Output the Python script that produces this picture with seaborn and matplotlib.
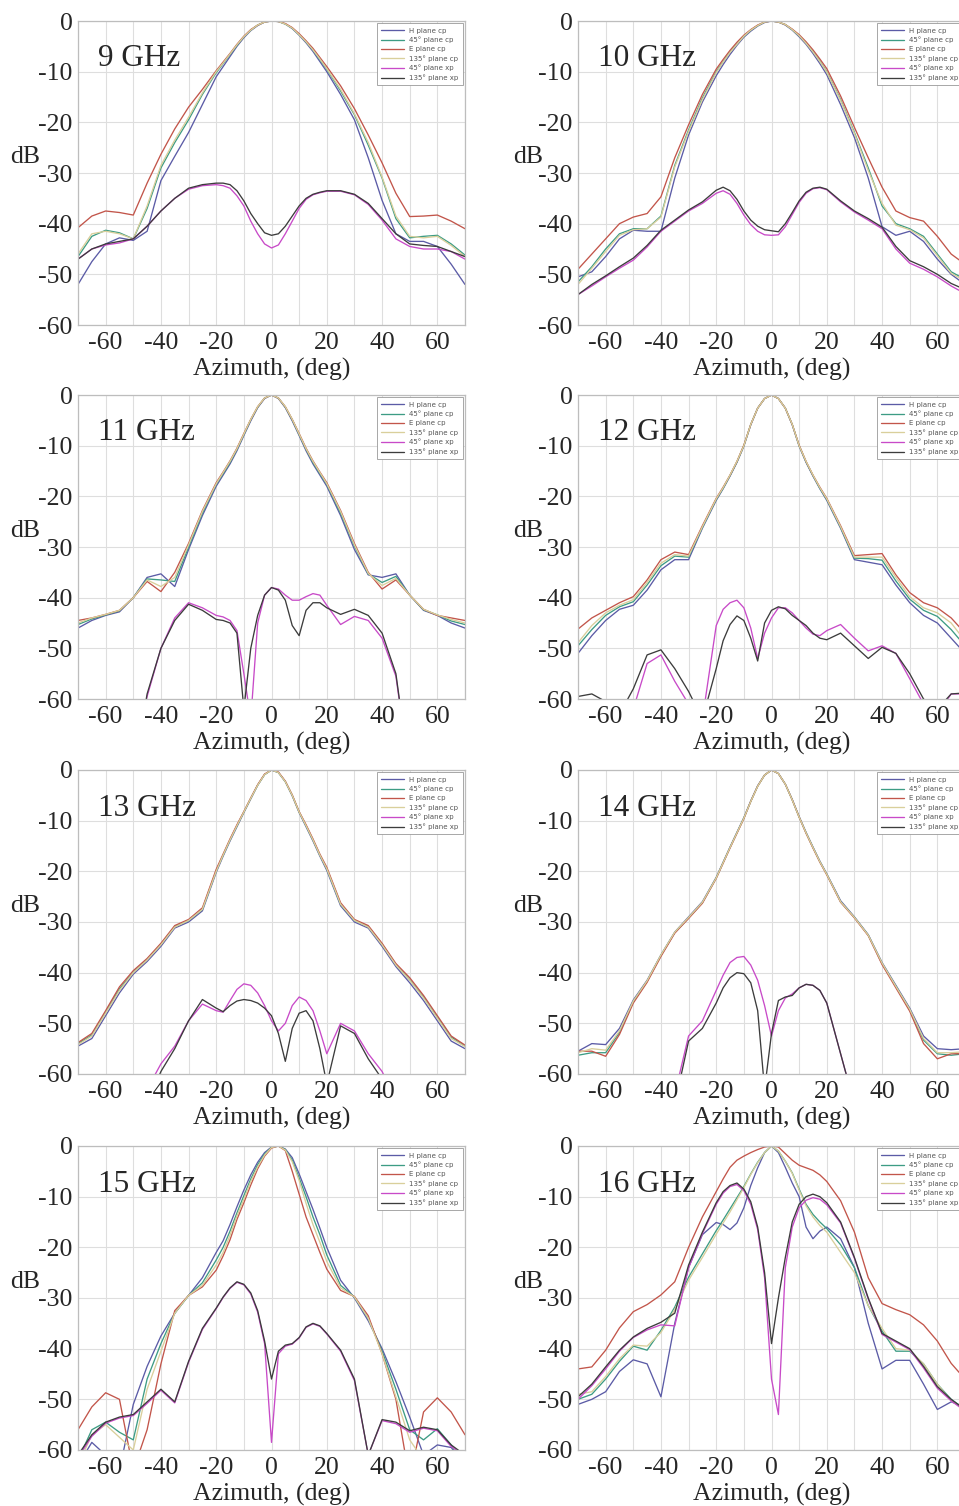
import matplotlib
matplotlib.use("Agg")
import matplotlib.pyplot as plt
import pandas as pd
import seaborn as sns


AZIMUTH = [-70, -65, -60, -55, -50, -45, -40, -35, -30, -25, -20,
           -17.5, -15, -12.5, -10, -7.5, -5, -2.5, 0, 2.5, 5, 7.5, 10, 12.5, 15, 17.5,
           20, 25, 30, 35, 40, 45, 50, 55, 60, 65, 70]

SERIES = ["H plane cp", "45° plane cp", "E plane cp", "135° plane cp", "45° plane xp", "135° plane xp"]
COLORS = ["#5b5ba6", "#3d9c84", "#c2554a", "#d9cf9b", "#c84ac8", "#3c3c3c"]
FREQUENCIES = ["9 GHz", "10 GHz", "11 GHz", "12 GHz", "13 GHz", "14 GHz", "15 GHz", "16 GHz"]
X_TICKS = [-60, -40, -20, 0, 20, 40, 60]
Y_TICKS = [0, -10, -20, -30, -40, -50, -60]

# dB values per series (order of SERIES), read at AZIMUTH
PATTERN_9 = [
    [-52, -47.5, -44, -42.8, -43.3, -41.5, -31.5, -26.7, -22, -16.5, -11,
     -9, -7, -5, -3.3, -1.9, -0.9, -0.2, 0, -0.1, -0.6, -1.5, -2.8, -4.3, -6, -8,
     -10, -14.5, -19.5, -27, -35.4, -42, -43.5, -43.5, -44.5, -48, -52],
    [-46.5, -42.5, -41.3, -41.8, -43, -37, -29, -24, -19.5, -14.5, -10.2,
     -8.4, -6.6, -4.8, -3.1, -1.8, -0.8, -0.2, 0, -0.1, -0.6, -1.4, -2.7, -4.1, -5.7, -7.6,
     -9.5, -13.8, -18.5, -24.5, -31, -39, -42.8, -42.5, -42.3, -44, -46.2],
    [-40.8, -38.5, -37.5, -37.8, -38.3, -32, -26.3, -21.3, -17, -13.5, -9.8,
     -8.1, -6.4, -4.6, -3, -1.7, -0.8, -0.2, 0, -0.1, -0.5, -1.3, -2.5, -3.9, -5.4, -7.2,
     -9, -12.8, -17.3, -22.5, -28, -34, -38.6, -38.5, -38.3, -39.5, -41],
    [-46, -42, -41.5, -42, -43, -36.5, -28.5, -23.5, -19, -14.2, -10,
     -8.3, -6.5, -4.7, -3.1, -1.8, -0.8, -0.2, 0, -0.1, -0.6, -1.4, -2.7, -4.1, -5.7, -7.5,
     -9.4, -13.5, -18.3, -24, -30.8, -38.5, -42.5, -42.8, -42.5, -44.3, -46.5],
    [-47, -45, -44.2, -43.8, -43, -40.5, -37.5, -35, -33.2, -32.5, -32.3,
     -32.5, -33, -34.5, -36.5, -39.5, -42, -44, -44.8, -44.2, -42, -39.5, -37, -35.2, -34.3, -33.9,
     -33.6, -33.6, -34.3, -36.2, -39.3, -43, -44.5, -45, -45, -45.5, -47],
    [-47, -45, -44, -43.5, -43, -40.5, -37.5, -35, -33, -32.3, -32,
     -32, -32.3, -33.5, -35.5, -38, -40, -41.8, -42.3, -42, -40.5, -38.5, -36.5, -35, -34.2, -33.8,
     -33.5, -33.5, -34.2, -36, -39, -42, -44, -44.3, -44.5, -45.5, -46.5],
]

PATTERN_10 = [
    [-50.5, -49.5, -46.5, -43, -41.3, -41.5, -41.5, -31, -22.5, -16, -10.8,
     -8.6, -6.6, -4.8, -3.2, -2, -1, -0.3, 0, -0.2, -0.8, -1.8, -3.1, -4.6, -6.4, -8.4,
     -10.6, -16.5, -23, -31, -40.6, -42.3, -41.5, -43.5, -47, -50, -52],
    [-51.5, -48.5, -45, -42, -41, -41, -38.5, -28.5, -21.5, -15.2, -10,
     -8, -6.1, -4.5, -3, -1.8, -0.9, -0.2, 0, -0.2, -0.7, -1.7, -2.9, -4.3, -6, -7.9,
     -10, -15.5, -22, -29, -36.5, -40, -41, -42.5, -46, -49.5, -51],
    [-49, -46, -43, -40, -38.7, -38, -34.7, -27, -20.5, -14.5, -9.5,
     -7.6, -5.8, -4.2, -2.8, -1.7, -0.8, -0.2, 0, -0.2, -0.7, -1.6, -2.7, -4.1, -5.7, -7.5,
     -9.4, -14.8, -21, -27, -32.8, -37.5, -38.8, -39.5, -42.5, -46, -48],
    [-52, -48.8, -45.5, -42.3, -41.2, -41, -38.7, -28.8, -21.8, -15.5, -10.2,
     -8.1, -6.2, -4.6, -3, -1.8, -0.9, -0.2, 0, -0.2, -0.7, -1.7, -2.9, -4.4, -6.1, -8,
     -10.1, -15.7, -22.2, -29.5, -36, -40.3, -41.2, -42.8, -46.3, -49.8, -51.3],
    [-54, -52.3, -50.5, -48.8, -47.2, -44.6, -41.5, -39.5, -37.5, -36, -34,
     -33.5, -34.2, -36, -38.3, -40.2, -41.5, -42.2, -42.3, -42.2, -40.6, -38.2, -35.8, -34, -33.1, -32.9,
     -33.3, -35.7, -37.7, -39.3, -41, -45, -47.8, -49, -50.5, -52.3, -53.8],
    [-54, -52, -50.3, -48.5, -46.8, -44.3, -41.3, -39.3, -37.3, -35.7, -33.4,
     -32.8, -33.5, -35.2, -37.5, -39.3, -40.5, -41.2, -41.4, -41.6, -40, -37.8, -35.5, -33.8, -33, -32.8,
     -33.2, -35.5, -37.5, -39, -40.7, -44.5, -47.3, -48.5, -50, -51.8, -53],
]

PATTERN_11 = [
    [-46, -44.5, -43.5, -42.8, -40, -36, -35.3, -37.8, -30.5, -23.8, -18,
     -15.8, -13.6, -11, -8, -5.1, -2.5, -0.7, 0, -0.7, -2.5, -5.1, -8, -11, -13.6, -15.8,
     -18, -23.8, -30.5, -35.5, -36, -35.3, -39.5, -42.5, -43.5, -45, -46],
    [-45.3, -44.2, -43.4, -42.6, -40, -36.3, -36.5, -36.8, -30, -23.3, -17.6,
     -15.5, -13.3, -10.7, -7.8, -4.9, -2.4, -0.6, 0, -0.6, -2.4, -4.9, -7.8, -10.7, -13.3, -15.5,
     -17.6, -23.3, -29.8, -35.3, -37, -35.8, -39.5, -42.4, -43.4, -44.6, -45.3],
    [-44.5, -44, -43.3, -42.5, -40, -36.8, -38.8, -35, -29.3, -22.8, -17.3,
     -15.2, -13, -10.5, -7.6, -4.8, -2.3, -0.6, 0, -0.6, -2.3, -4.8, -7.6, -10.5, -13, -15.2,
     -17.3, -22.8, -29.3, -35, -38.3, -36.5, -39.5, -42.3, -43.5, -44, -44.5],
    [-45, -44, -43.3, -42.5, -40, -36.5, -37.8, -36, -29.6, -23, -17.5,
     -15.3, -13.1, -10.6, -7.7, -4.8, -2.3, -0.6, 0, -0.6, -2.3, -4.8, -7.7, -10.6, -13.1, -15.3,
     -17.5, -23, -29.6, -35.2, -37.6, -36.2, -39.5, -42.3, -43.4, -44.3, -45],
    [-75, -75, -75, -75, -75, -59.5, -50, -44, -41, -42, -43.5,
     -43.8, -44.5, -46.5, -55, -64, -45, -39.5, -38, -38.3, -39.5, -40.5, -40.5, -39.8, -39.2, -39.5,
     -41.5, -45.3, -43.7, -44.5, -48, -55.5, -75, -75, -75, -75, -75],
    [-75, -75, -75, -75, -75, -59, -50, -44.5, -41.3, -42.5, -44.3,
     -44.5, -45, -47, -62, -50, -43.5, -39.5, -38, -38.5, -40.5, -45.5, -47.5, -42.5, -41, -41,
     -42, -43.3, -42.3, -43.5, -47, -55, -75, -75, -75, -75, -75],
]

PATTERN_12 = [
    [-51, -47.5, -44.5, -42.3, -41.5, -38.5, -34.5, -32.5, -32.5, -26.3, -20.8,
     -18.5, -16, -13.3, -10.1, -5.9, -2.6, -0.7, 0, -0.7, -2.6, -5.9, -10.1, -13.3, -16, -18.5,
     -20.8, -26.3, -32.5, -33, -33.5, -37.5, -41, -43.5, -45, -48, -51],
    [-49.5, -46.3, -43.5, -41.8, -40.8, -37.5, -33.7, -31.8, -32, -26.1, -20.6,
     -18.4, -15.9, -13.2, -10, -5.8, -2.6, -0.7, 0, -0.7, -2.6, -5.8, -10, -13.2, -15.9, -18.4,
     -20.6, -26.1, -32.2, -32.3, -32.6, -36.7, -40.3, -42.5, -43.7, -46.3, -49.5],
    [-46.2, -44, -42.5, -41, -39.8, -36.5, -32.5, -31, -31.5, -25.8, -20.4,
     -18.2, -15.8, -13.1, -9.9, -5.8, -2.6, -0.7, 0, -0.7, -2.6, -5.8, -9.9, -13.1, -15.8, -18.2,
     -20.4, -25.8, -31.7, -31.5, -31.3, -35.5, -39, -41, -42, -44, -47],
    [-48.9, -45.5, -43, -41.5, -40.4, -37, -33.2, -31.5, -31.8, -26, -20.5,
     -18.3, -15.8, -13.1, -10, -5.8, -2.6, -0.7, 0, -0.7, -2.6, -5.8, -10, -13.1, -15.8, -18.3,
     -20.5, -26, -32, -32, -32, -36, -39.8, -42, -43, -45, -48.5],
    [-62, -61, -63, -64, -62, -53, -51.3, -56.5, -61, -64, -45.5,
     -42.3, -41, -40.5, -42, -46, -52, -47, -44, -42, -42, -43, -44.5, -46, -47.2, -47.5,
     -46.5, -45.3, -48, -50.5, -49.5, -51, -56, -61, -63, -59, -59],
    [-59.5, -59, -60.5, -63, -58, -51.3, -50.3, -54, -58.5, -64, -54,
     -48.5, -45.3, -43.6, -44.5, -48, -52.5, -45, -42.5, -41.8, -42.2, -43.5, -44.5, -45.5, -47, -48,
     -48.3, -47, -49.5, -52, -49.8, -51, -55, -60, -62, -59, -58.8],
]

PATTERN_13 = [
    [-54.5, -53, -48.5, -44, -40.3, -37.8, -34.8, -31.2, -30, -27.8, -20.2,
     -17, -14, -11.2, -8.4, -5.7, -3, -0.9, 0, -0.5, -2.3, -5.1, -8.4, -11.2, -14, -17,
     -19.8, -26.8, -30, -31.2, -34.8, -38.8, -42, -45.5, -49.5, -53.5, -55],
    [-54, -52.3, -47.8, -43.2, -39.9, -37.4, -34.4, -30.9, -29.7, -27.5, -19.9,
     -16.8, -13.8, -11, -8.3, -5.6, -3, -0.9, 0, -0.5, -2.3, -5, -8.3, -11, -13.8, -16.8,
     -19.5, -26.5, -29.7, -30.9, -34.4, -38.4, -41.4, -44.8, -48.8, -52.7, -54.5],
    [-53.8, -52, -47.5, -42.8, -39.6, -37.2, -34.2, -30.7, -29.5, -27.2, -19.6,
     -16.6, -13.6, -10.8, -8.2, -5.5, -2.9, -0.8, 0, -0.4, -2.2, -4.9, -8.2, -10.8, -13.6, -16.6,
     -19.2, -26.2, -29.5, -30.7, -34.2, -38.2, -41, -44.5, -48.5, -52.5, -54.3],
    [-54.2, -52.5, -48, -43.5, -40, -37.5, -34.5, -31, -29.7, -27.5, -20,
     -16.8, -13.8, -11, -8.3, -5.6, -3, -0.9, 0, -0.5, -2.3, -5, -8.3, -11, -13.8, -16.8,
     -19.5, -26.5, -29.7, -31, -34.5, -38.5, -41.5, -45, -49, -53, -54.6],
    [-75, -75, -75, -75, -75, -63, -58, -54.5, -49.5, -46.2, -47.5,
     -47.8, -45.5, -43.3, -42.2, -42.5, -44, -46.5, -49.5, -51.5, -50, -46.5, -44.8, -45.5, -47.5, -51.5,
     -56, -50, -51.5, -56, -59.5, -65, -75, -75, -75, -75, -75],
    [-75, -75, -75, -75, -75, -66, -59.5, -55, -49.5, -45.3, -47,
     -47.7, -46.5, -45.6, -45.3, -45.5, -46, -47, -48.5, -52, -57.5, -51, -48, -47.5, -49.5, -55,
     -62, -50.5, -52, -57, -61, -66, -75, -75, -75, -75, -75],
]

PATTERN_14 = [
    [-55.5, -54, -54.2, -51, -45.4, -41.5, -36.5, -32, -29, -26, -21.2,
     -18.2, -15.2, -12.3, -9.4, -6.1, -3.1, -1, 0, -0.7, -2.8, -5.8, -9.2, -12.3, -15.2, -18,
     -20.5, -25.8, -29, -32.5, -38, -42.5, -47, -52.5, -55, -55.2, -55],
    [-56.3, -55.8, -55.8, -51.8, -45.7, -41.7, -36.6, -32.1, -29.2, -26.2, -21.3,
     -18.3, -15.3, -12.4, -9.5, -6.2, -3.2, -1, 0, -0.7, -2.8, -5.9, -9.3, -12.4, -15.3, -18.1,
     -20.6, -26, -29.1, -32.6, -38.2, -42.7, -47.3, -53.3, -56, -56.3, -56],
    [-55.5, -55.5, -56.5, -52.2, -46, -41.9, -36.8, -32.2, -29.3, -26.3, -21.4,
     -18.4, -15.4, -12.5, -9.6, -6.2, -3.2, -1, 0, -0.7, -2.8, -5.9, -9.3, -12.5, -15.4, -18.2,
     -20.7, -26.1, -29.2, -32.7, -38.4, -43, -47.6, -54, -57, -56, -56],
    [-55.8, -55, -55.3, -51.5, -45.6, -41.6, -36.5, -32, -29.1, -26.1, -21.3,
     -18.3, -15.3, -12.4, -9.5, -6.2, -3.2, -1, 0, -0.7, -2.8, -5.9, -9.3, -12.4, -15.3, -18.1,
     -20.6, -26, -29.1, -32.6, -38.1, -42.7, -47.2, -53, -55.8, -55.8, -55.6],
    [-75, -75, -75, -75, -75, -75, -75, -64, -52.5, -49.5, -43.5,
     -40.5, -38, -37, -36.8, -38.5, -41.5, -46.5, -52.5, -47.5, -45, -44.2, -43, -42.3, -42.5, -43.5,
     -46, -56, -66, -75, -75, -75, -75, -75, -75, -75, -75],
    [-75, -75, -75, -75, -75, -75, -75, -66, -53.5, -51, -46,
     -43, -41, -40, -40.2, -42, -47.5, -63, -52, -45.5, -44.8, -44.5, -43, -42.3, -42.5, -43.5,
     -46, -56, -66, -75, -75, -75, -75, -75, -75, -75, -75],
]

PATTERN_15 = [
    [-63, -58.5, -61, -64, -51, -43.5, -37.5, -33, -29.5, -26, -21,
     -18.7, -15.5, -12, -8.7, -5.7, -3.2, -1.3, -0.2, 0, -0.6, -2.3, -5.5, -9, -12.5, -16.2,
     -20, -26.5, -30, -34.5, -40, -46.5, -53.5, -61, -59, -59.5, -63],
    [-62, -56, -54.5, -56.5, -58, -46, -39, -33, -29.5, -27, -22.5,
     -20, -16.8, -13.2, -9.8, -6.5, -3.7, -1.6, -0.3, 0, -0.7, -2.8, -6.3, -10, -14, -17.5,
     -21.5, -27.5, -29.8, -34, -40.5, -48, -56, -58, -55.8, -59, -64],
    [-56, -51.5, -48.7, -50, -64, -56, -43, -32.5, -29.5, -27.8, -24.5,
     -21.7, -18.5, -14.5, -11.2, -7.7, -4.5, -2, -0.4, 0, -0.9, -5, -9.5, -14, -17.5, -21,
     -24.3, -28.5, -29.7, -33.5, -41, -50, -66, -52.5, -49.7, -52.5, -57],
    [-63, -57, -55, -57.5, -60, -48, -40.5, -33, -29.5, -27.5, -23.5,
     -21, -17.6, -13.8, -10.5, -7, -4.1, -1.8, -0.3, 0, -0.8, -3.1, -6.8, -11.3, -15.5, -19,
     -22.8, -28, -29.8, -34, -41, -49.5, -58, -62, -62, -62, -65],
    [-61.5, -57.3, -54.7, -53.7, -53.2, -50.8, -48.2, -50.7, -42.7, -36.2, -32.1,
     -29.9, -28.1, -26.9, -27.4, -29.2, -32.8, -39, -58.5, -41, -39.5, -39.1, -37.9, -35.8, -35.1, -35.6,
     -37.1, -40.5, -46.3, -61, -54.2, -54.8, -56.5, -55.7, -56.2, -59.3, -61.3],
    [-61, -57, -54.5, -53.5, -53, -50.5, -48, -50.5, -42.5, -36, -32,
     -29.8, -28, -26.8, -27.3, -29, -32.5, -38.5, -46, -40.5, -39.3, -39, -37.8, -35.7, -35, -35.5,
     -37, -40.3, -46, -61, -54, -54.5, -56.2, -55.5, -56, -59, -61],
]

PATTERN_16 = [
    [-51, -50, -48.5, -44.5, -42.2, -43, -49.5, -35, -24, -17.5, -15.1,
     -15.5, -16.5, -15.2, -12.2, -7.8, -4.3, -1.3, 0, -1.3, -4.2, -7.3, -10, -16, -18.3, -16.8,
     -16, -18.3, -24, -35, -44, -42.3, -42.3, -47, -52, -50.5, -51.5],
    [-50, -49, -46, -42.5, -39.5, -40.3, -36.4, -31.8, -25.9, -21.3, -16.7,
     -14.6, -12.4, -10.2, -8, -5.5, -3.2, -1.3, 0, -1, -3, -5.3, -8.5, -11.5, -13.5, -15,
     -16.3, -19.5, -24, -31.5, -36.5, -40.5, -40.5, -43, -47, -50, -52],
    [-44, -43.6, -40.3, -35.9, -32.7, -31.3, -29.4, -26.8, -20, -14, -9,
     -6.5, -4.2, -2.8, -2, -1.3, -0.7, -0.2, 0, -0.2, -1.5, -2.8, -3.8, -4.3, -4.8, -5.7,
     -7, -10.8, -17, -26, -31.1, -32.3, -33.3, -35.3, -38.5, -42.9, -46],
    [-49, -48.5, -45.5, -42, -39.3, -39.5, -36.8, -32.3, -26.5, -22, -17.4,
     -15.2, -13, -10.6, -8.2, -5.6, -3.3, -1.3, 0, -1, -3, -5.4, -8.7, -11.8, -14, -15.7,
     -17, -21, -25, -31.5, -36, -40, -40.3, -43, -47, -50.3, -52],
    [-50, -47.3, -44, -40.5, -37.8, -36.3, -35.3, -35.5, -24, -17.3, -11.5,
     -9.3, -8, -7.6, -8.8, -11.5, -16.5, -26, -46, -53, -24, -16, -12.2, -10.7, -10.2, -10.5,
     -11.6, -15.2, -22.2, -30.2, -37.2, -38.7, -40.2, -43.8, -47.8, -50.3, -52.3],
    [-49.5, -47, -43.6, -40.3, -37.7, -36, -34.8, -33, -23.5, -17, -11.2,
     -9, -7.8, -7.3, -8.5, -11, -16, -25, -39, -30, -22, -15, -11.5, -10, -9.5, -10,
     -11.2, -15, -22, -30, -37, -38.5, -40, -43.5, -47.5, -50, -52],
]

PATTERNS = [PATTERN_9, PATTERN_10, PATTERN_11, PATTERN_12,
            PATTERN_13, PATTERN_14, PATTERN_15, PATTERN_16]


def pattern_frame(pattern) -> pd.DataFrame:
    rows = []
    for name, values in zip(SERIES, pattern):
        assert len(values) == len(AZIMUTH), (name, len(values))
        for az, db in zip(AZIMUTH, values):
            rows.append({"azimuth": az, "dB": db, "series": name})
    return pd.DataFrame(rows)


def draw_panel(ax, label, pattern, column) -> None:
    data = pattern_frame(pattern)
    sns.lineplot(
        data=data, x="azimuth", y="dB", hue="series", hue_order=SERIES,
        palette=dict(zip(SERIES, COLORS)), estimator=None, sort=False,
        linewidth=0.95, ax=ax,
    )
    ax.set_xlim(-70, 70)
    ax.set_ylim(-60, 0)
    ax.set_xticks(X_TICKS)
    ax.set_xticks(range(-70, 71, 10), minor=True)
    ax.set_yticks(Y_TICKS)
    ax.set_xticklabels([str(t) for t in X_TICKS])
    ax.set_yticklabels([str(t) for t in Y_TICKS])
    ax.grid(True, which="both", color="#dedede", linewidth=0.8)
    ax.tick_params(which="both", length=0, labelsize=18.5)
    ax.tick_params(axis="y", pad=4)
    ax.tick_params(axis="x", pad=5)
    for spine in ax.spines.values():
        spine.set_color("#bdbdbd")
        spine.set_linewidth(0.9)

    ax.set_xlabel("Azimuth, (deg)", fontsize=18.5, labelpad=3)
    ax.set_ylabel("dB", fontsize=18.5, rotation=0, ha="center", va="center")
    ax.yaxis.set_label_coords(-0.137 if column == 0 else -0.129, 0.553)
    ax.text(0.052, 0.875, label, transform=ax.transAxes, fontsize=22.5, ha="left", va="center")

    sns.move_legend(
        ax, "upper right", title=None, frameon=True, fancybox=False,
        prop={"family": "DejaVu Sans", "size": 5.0}, edgecolor="#999999",
        borderpad=0.6, labelspacing=0.42, handlelength=3.2, handletextpad=0.8,
        borderaxespad=0.35, framealpha=1.0,
    )
    legend = ax.get_legend()
    legend.get_frame().set_linewidth(0.6)
    for text in legend.get_texts():
        text.set_color("#555555")


def main() -> None:
    sns.set_style("whitegrid")
    plt.rcParams["font.family"] = ["Liberation Serif", "DejaVu Serif"]
    plt.rcParams["axes.unicode_minus"] = False

    fig = plt.figure(figsize=(9.59, 15.06), dpi=100)
    width = 387 / 959
    height = 304 / 1506
    lefts = [78 / 959, 578 / 959]
    tops = [21, 395, 770, 1146]

    for i, (label, pattern) in enumerate(zip(FREQUENCIES, PATTERNS)):
        row, column = divmod(i, 2)
        bottom = (1506 - tops[row] - 304) / 1506
        ax = fig.add_axes([lefts[column], bottom, width, height])
        draw_panel(ax, label, pattern, column)

    fig.savefig("out.png", dpi=100)
    plt.close(fig)


if __name__ == "__main__":
    main()
